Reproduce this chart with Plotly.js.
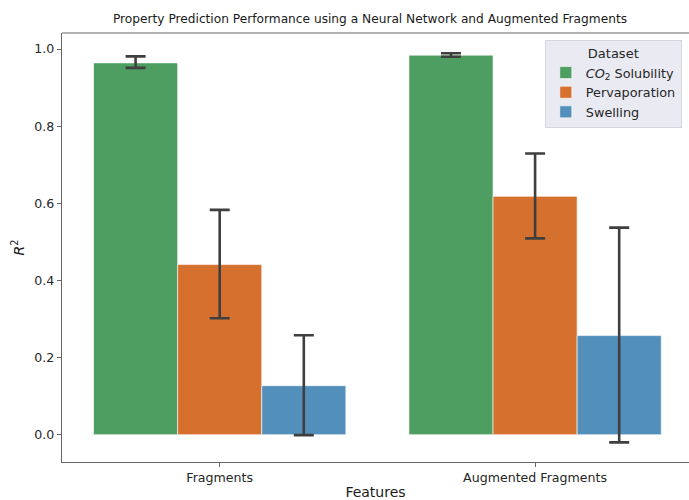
<!DOCTYPE html>
<html>
<head>
<meta charset="utf-8">
<script src="https://cdn.plot.ly/plotly-3.0.1.min.js"></script>
<style>html,body{margin:0;padding:0;background:#fff;}#chart{width:689px;height:500px;}</style>
</head>
<body>
<div id="chart"></div>
<script>
// Data
const features = ["Fragments", "Augmented Fragments"];
const datasetNames = ["<i>CO</i><sub>2</sub> Solubility", "Pervaporation", "Swelling"];
const co2Values = [0.964, 0.984];
const co2Upper = [0.981, 0.989];
const co2Lower = [0.951, 0.980];
const pervValues = [0.441, 0.618];
const pervUpper = [0.583, 0.729];
const pervLower = [0.302, 0.509];
const swellValues = [0.127, 0.257];
const swellUpper = [0.258, 0.537];
const swellLower = [-0.001, -0.020];
const yTicks = [0.0, 0.2, 0.4, 0.6, 0.8, 1.0];
const yTickLabels = ["0.0", "0.2", "0.4", "0.6", "0.8", "1.0"];

const colors = ["#4f9e61", "#d5702f", "#5290bb"];
const series = [
  [co2Values, co2Upper, co2Lower],
  [pervValues, pervUpper, pervLower],
  [swellValues, swellUpper, swellLower]
];

const traces = series.map((s, i) => ({
  type: "bar",
  name: datasetNames[i],
  x: features,
  y: s[0],
  marker: {color: colors[i], line: {color: "rgba(255,255,255,0.6)", width: 1}},
  error_y: {
    type: "data",
    symmetric: false,
    array: s[0].map((v, k) => s[1][k] - v),
    arrayminus: s[0].map((v, k) => v - s[2][k]),
    color: "#3f3f3f",
    thickness: 2.6,
    width: 10
  },
  hoverinfo: "skip"
}));

const layout = {
  width: 689,
  height: 500,
  margin: {l: 62, r: 0, t: 33, b: 38},
  paper_bgcolor: "#ffffff",
  plot_bgcolor: "#ffffff",
  font: {family: "DejaVu Sans", color: "#262626", size: 12},
  barmode: "group",
  bargap: 0.2,
  bargroupgap: 0,
  showlegend: true,
  title: {
    text: "Property Prediction Performance using a Neural Network and Augmented Fragments",
    font: {size: 12.2, color: "#1a1a1a"},
    x: 0.537, xanchor: "center",
    y: 0.962, yanchor: "middle"
  },
  xaxis: {
    type: "category",
    range: [-0.5, 1.488],
    showline: true, linecolor: "#666666", linewidth: 1.2,
    ticks: "outside", ticklen: 4, tickcolor: "#666666",
    showgrid: false, zeroline: false,
    tickfont: {size: 12.6, color: "#262626"},
    title: {text: "Features", font: {size: 14, color: "#1a1a1a"}, standoff: 4}
  },
  yaxis: {
    range: [-0.0708, 1.0415],
    showline: true, linecolor: "#666666", linewidth: 1.2,
    ticks: "outside", ticklen: 4, tickcolor: "#666666",
    tickvals: yTicks, ticktext: yTickLabels,
    showgrid: false, zeroline: false,
    tickfont: {size: 12.6, color: "#262626"},
    title: {text: "<i>R</i><sup>2</sup>", font: {size: 14, color: "#1a1a1a"}, standoff: 6}
  },
  shapes: [
    {type: "line", xref: "paper", yref: "paper", x0: 0, x1: 1, y0: 1, y1: 1,
     line: {color: "#666666", width: 1.2}}
  ],
  legend: {
    x: 0.770, y: 0.984, xanchor: "left", yanchor: "top",
    bgcolor: "#eaeaf2", bordercolor: "#d6d6de", borderwidth: 1,
    font: {size: 12.8, color: "#262626"},
    title: {text: "Dataset", side: "top center", font: {size: 13, color: "#262626"}},
    itemwidth: 30, tracegroupgap: 0
  }
};

Plotly.newPlot("chart", traces, layout, {displayModeBar: false, staticPlot: true});
</script>
</body>
</html>
